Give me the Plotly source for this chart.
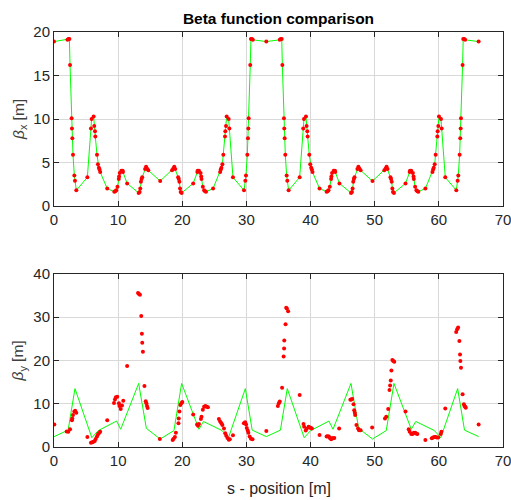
import plotly.graph_objects as go

# ---- top panel: beta_x (model, lattice points) ----
s_x = [0.00, 2.10, 2.25, 2.40, 2.50, 2.75, 2.80, 2.86, 2.96, 3.17, 3.27, 3.48, 5.20, 5.76, 5.87, 6.18, 6.28, 6.39, 6.44,
       6.70, 6.85, 7.00, 7.10, 7.20, 8.30, 9.40, 9.55, 9.70, 9.90, 10.10, 10.15, 10.25, 10.50, 10.70, 10.75, 11.40,
       13.20, 13.35, 13.45, 13.55, 13.65, 13.75, 14.20, 14.35, 14.50, 14.70, 16.55,
       18.40, 18.60, 18.75, 18.90, 19.35, 19.45, 19.55, 19.65, 19.75, 19.90, 21.70, 22.35, 22.40, 22.60, 22.85,
       22.95, 23.00, 23.20, 23.40, 23.55, 23.70, 24.80, 25.90, 26.00, 26.10, 26.25, 26.40, 26.66, 26.71, 26.82,
       26.92, 27.23, 27.34, 27.90, 29.62, 29.83, 29.93, 30.14, 30.24, 30.30, 30.35, 30.60, 30.70, 30.85, 31.00,
       33.10,
       35.20, 35.35, 35.50, 35.60, 35.85, 35.90, 35.96, 36.06, 36.27, 36.37, 36.58, 38.30, 38.86, 38.97, 39.28,
       39.38, 39.49, 39.54, 39.80, 39.95, 40.10, 40.20, 40.30, 41.40, 42.50, 42.65, 42.80, 43.00, 43.20, 43.25,
       43.35, 43.60, 43.80, 43.85, 44.50, 46.30, 46.45, 46.55, 46.65, 46.75, 46.85, 47.30, 47.45, 47.60, 47.80,
       49.65,
       51.50, 51.70, 51.85, 52.00, 52.45, 52.55, 52.65, 52.75, 52.85, 53.00, 54.80, 55.45, 55.50, 55.70, 55.95,
       56.05, 56.10, 56.30, 56.50, 56.65, 56.80, 57.90, 59.00, 59.10, 59.20, 59.35, 59.50, 59.76, 59.81, 59.92,
       60.02, 60.33, 60.44, 61.00, 62.72, 62.93, 63.03, 63.24, 63.34, 63.40, 63.45, 63.70, 63.80, 63.95, 64.10,
       66.20]
beta_x = [18.9, 19.1, 19.2, 19.2, 16.2, 10.1, 8.9, 7.8, 5.9, 3.5, 2.9, 1.8, 3.3, 8.9, 10.0, 10.3, 9.2, 8.6, 8.0,
          5.9, 4.8, 4.4, 4.2, 3.9, 2.0, 1.65, 1.7, 1.8, 2.2, 3.1, 3.4, 3.8, 4.05, 4.05, 3.9, 2.6,
          1.5, 1.6, 2.0, 2.8, 3.1, 3.3, 4.25, 4.5, 4.3, 4.1, 2.87,
          4.1, 4.3, 4.5, 4.25, 3.3, 3.1, 2.8, 2.0, 1.6, 1.5, 2.6, 3.9, 4.05, 4.05, 3.8,
          3.4, 3.1, 2.2, 1.8, 1.7, 1.65, 2.0, 3.9, 4.2, 4.4, 4.8, 5.9, 8.0, 8.6, 9.2,
          10.3, 10.0, 8.9, 3.3, 1.8, 2.9, 3.5, 5.9, 7.8, 8.9, 10.1, 16.2, 19.2, 19.2, 19.1,
          18.9,
          19.1, 19.2, 19.2, 16.2, 10.1, 8.9, 7.8, 5.9, 3.5, 2.9, 1.8, 3.3, 8.9, 10.0, 10.3,
          9.2, 8.6, 8.0, 5.9, 4.8, 4.4, 4.2, 3.9, 2.0, 1.65, 1.7, 1.8, 2.2, 3.1, 3.4,
          3.8, 4.05, 4.05, 3.9, 2.6, 1.5, 1.6, 2.0, 2.8, 3.1, 3.3, 4.25, 4.5, 4.3, 4.1,
          2.87,
          4.1, 4.3, 4.5, 4.25, 3.3, 3.1, 2.8, 2.0, 1.6, 1.5, 2.6, 3.9, 4.05, 4.05, 3.8,
          3.4, 3.1, 2.2, 1.8, 1.7, 1.65, 2.0, 3.9, 4.2, 4.4, 4.8, 5.9, 8.0, 8.6, 9.2,
          10.3, 10.0, 8.9, 3.3, 1.8, 2.9, 3.5, 5.9, 7.8, 8.9, 10.1, 16.2, 19.2, 19.2, 19.1,
          18.9]

# ---- bottom panel: beta_y model (green line) ----
s_y_model = [0.0, 2.2, 3.27, 5.9, 6.9, 9.76, 10.4, 13.2, 14.4, 16.55, 18.7, 19.9, 22.6, 23.3, 26.2, 27.2,
             29.83, 30.9, 33.1, 35.3, 36.37, 39.0, 40.0, 42.86, 43.5, 46.3, 47.5, 49.65, 51.8, 53.0, 55.7,
             56.4, 59.3, 60.3, 62.93, 64.0, 66.2]
beta_y_model = [2.4, 3.9, 13.5, 2.15, 3.8, 6.0, 4.1, 14.7, 4.3, 1.85, 3.8, 14.7, 4.1, 5.9, 3.8, 2.15,
                13.5, 3.9, 2.4, 3.9, 13.5, 2.15, 3.8, 6.0, 4.1, 14.7, 4.3, 1.85, 3.8, 14.7, 4.1,
                5.9, 3.8, 2.15, 13.5, 3.9, 2.4]

# ---- bottom panel: beta_y measured (red dots) ----
s_y_meas = [0.05, 1.97, 2.23, 2.5, 2.8, 2.85, 2.96, 3.17, 3.3, 3.48, 5.2, 5.76, 5.95, 6.15, 6.35, 6.5, 6.7, 6.85,
            7.0, 7.2, 8.3, 9.35, 9.5, 9.65, 9.86, 10.12, 10.2, 10.4, 10.6, 10.8, 11.4, 13.1, 13.25, 13.4, 13.6,
            13.7, 13.76, 13.86, 14.1, 14.3, 14.4, 14.5, 14.6, 16.5, 18.5, 18.65, 18.85, 19.0, 19.4, 19.45, 19.55,
            19.7, 19.85, 20.0, 21.7, 22.3, 22.45, 22.6, 22.9, 23.0, 23.2, 23.4, 23.6, 23.8, 24.0, 25.7, 25.9,
            26.1, 26.25, 26.5, 26.7, 26.85, 27.05, 27.25, 27.4, 27.9, 29.6, 29.8, 29.95, 30.05, 30.2, 30.3, 30.5,
            30.7, 30.95, 33.1, 34.9, 35.05, 35.2, 35.56, 35.8, 35.87, 35.9, 36.1, 36.2, 36.3, 36.5, 38.3, 38.9,
            39.0, 39.25, 39.4, 39.7, 39.9, 40.05, 40.2, 41.4, 42.5, 42.65, 42.85, 43.0, 43.2, 43.35, 43.5, 43.7,
            44.45, 46.2, 46.35, 46.5, 46.7, 46.8, 46.9, 46.95, 47.15, 47.4, 47.55, 47.8, 49.6, 51.6, 51.8, 52.1,
            52.3, 52.4, 52.5, 52.6, 52.75, 52.9, 53.05, 54.8, 55.3, 55.45, 55.7, 55.9, 56.1, 56.3, 56.45, 56.65,
            57.9, 58.9, 59.1, 59.3, 59.5, 59.7, 59.9, 60.3, 60.4, 61.0, 62.7, 62.85, 63.0, 63.2, 63.3, 63.35,
            63.45, 63.7, 63.9, 64.0, 64.1, 64.2, 66.2]
beta_y_meas = [5.2, 3.6, 3.5, 4.1, 6.2, 6.6, 7.4, 8.2, 8.4, 7.9, 2.3, 1.0, 1.1, 1.2, 1.4, 1.85, 2.4, 2.9,
               3.2, 3.5, 6.2, 10.2, 11.0, 11.5, 11.6, 10.1, 9.5, 8.8, 9.6, 10.7, 18.7, 35.6, 35.4, 35.2, 30.3,
               26.2, 24.1, 22.0, 14.1, 10.6, 10.1, 9.5, 9.0, 1.85, 1.6, 1.9, 2.3, 3.3, 5.5, 6.6, 8.2,
               9.7, 10.1, 10.4, 7.5, 5.2, 4.9, 5.3, 6.5, 7.0, 8.6, 9.3, 9.5, 9.3, 9.2, 6.5, 5.9,
               5.5, 5.1, 4.3, 3.2, 2.6, 2.1, 1.7, 1.8, 2.7, 5.5, 5.7, 5.2, 4.4, 3.8, 3.3, 2.4,
               1.9, 1.8, 3.7, 9.5, 10.1, 10.5, 13.7, 20.9, 22.8, 24.6, 28.4, 32.2, 32.0, 31.4, 12.0, 5.3,
               4.7, 3.8, 4.2, 4.7, 4.5, 4.4, 4.3, 2.8, 2.4, 2.5, 2.4, 2.1, 1.8, 2.0, 2.0, 2.1,
               4.3, 10.9, 11.0, 11.1, 9.9, 8.5, 7.9, 7.4, 5.1, 4.3, 3.9, 3.9, 4.5, 6.6, 7.0, 8.8,
               13.2, 14.2, 15.4, 17.7, 20.1, 19.9, 19.7, 8.2, 4.1, 3.5, 3.0, 3.0, 3.3, 3.3, 3.1, 3.0,
               1.6, 2.0, 2.2, 2.3, 2.3, 2.2, 2.2, 3.0, 3.5, 8.9, 26.6, 27.2, 27.6, 24.5, 21.4, 19.9,
               18.3, 12.2, 9.9, 9.5, 9.3, 9.1, 5.2]

x_ticks = [0, 10, 20, 30, 40, 50, 60, 70]
yx_ticks = [0, 5, 10, 15, 20]
yy_ticks = [0, 10, 20, 30, 40]

GREEN = "#00ff00"
RED = "#ff0000"
AX = "#262626"
GRID = "#d9d9d9"
FONT = "Liberation Sans, Arial, sans-serif"

fig = go.Figure()
fig.add_trace(go.Scatter(x=s_x, y=beta_x, mode="lines+markers", xaxis="x", yaxis="y",
                         line=dict(color=GREEN, width=1),
                         marker=dict(color=RED, size=4, line=dict(width=0)), showlegend=False))
fig.add_trace(go.Scatter(x=s_y_model, y=beta_y_model, mode="lines", xaxis="x2", yaxis="y2",
                         line=dict(color=GREEN, width=1), showlegend=False))
fig.add_trace(go.Scatter(x=s_y_meas, y=beta_y_meas, mode="markers", xaxis="x2", yaxis="y2",
                         marker=dict(color=RED, size=4, line=dict(width=0)), showlegend=False))

axis_common = dict(showline=True, linecolor=AX, linewidth=1, mirror="ticks", ticks="inside",
                   ticklen=5, tickcolor=AX, showgrid=True, gridcolor=GRID, gridwidth=1,
                   zeroline=False, automargin=False,
                   tickfont=dict(family=FONT, size=15, color=AX))

top_dom = [0.5807, 1.0]
bot_dom = [0.0, 0.4169]
PLOT_H = 500 - 32 - 53

fig.update_layout(
    width=511, height=500,
    margin=dict(l=54, r=8, t=32, b=53),
    paper_bgcolor="white", plot_bgcolor="white",
    font=dict(family=FONT, color=AX),
    title=dict(text="<b>Beta function comparison</b>", x=0.545, xanchor="center",
               y=1 - 19 / 500, yanchor="middle", font=dict(family=FONT, size=15.5, color="#000000")),
    xaxis=dict(axis_common, domain=[0, 1], range=[0, 70], tickvals=x_ticks, anchor="y",
               ticklabeloverflow="allow"),
    yaxis=dict(axis_common, domain=top_dom, range=[0, 20], tickvals=yx_ticks, anchor="x"),
    xaxis2=dict(axis_common, domain=[0, 1], range=[0, 70], tickvals=x_ticks, anchor="y2",
                ticklabeloverflow="allow"),
    yaxis2=dict(axis_common, domain=bot_dom, range=[0, 40], tickvals=yy_ticks, anchor="x2"),
    annotations=[
        dict(text="<i>β</i><sub>x</sub> [m]", xref="paper", yref="paper", x=-0.078,
             y=(top_dom[0] + top_dom[1]) / 2, xanchor="center", yanchor="middle", textangle=-90,
             showarrow=False, font=dict(family=FONT, size=15.5, color="#404040")),
        dict(text="<i>β</i><sub>y</sub> [m]", xref="paper", yref="paper", x=-0.078,
             y=(bot_dom[0] + bot_dom[1]) / 2, xanchor="center", yanchor="middle", textangle=-90,
             showarrow=False, font=dict(family=FONT, size=15.5, color="#404040")),
        dict(text="s - position [m]", xref="paper", yref="paper", x=0.5, y=-41 / PLOT_H,
             xanchor="center", yanchor="middle", showarrow=False,
             font=dict(family=FONT, size=16, color=AX)),
    ],
)

fig.write_html("out.html", config={"displayModeBar": False},
               post_script="document.body.style.margin='0';document.body.style.padding='0';")
